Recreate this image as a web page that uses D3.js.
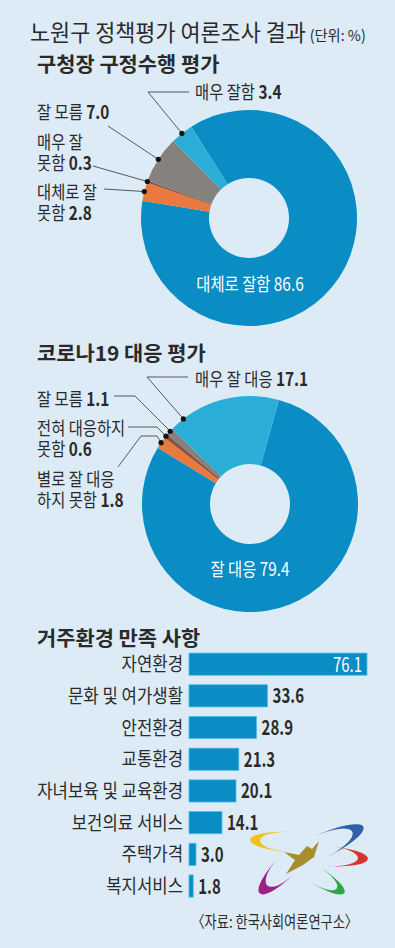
<!DOCTYPE html>
<html>
<head>
<meta charset="utf-8">
<script src="https://cdn.jsdelivr.net/npm/d3@7"></script>
<style>
  html, body { margin: 0; padding: 0; background: #ddebf7; }
  svg { display: block; }
  text { font-family: "Noto Sans CJK KR", "Noto Sans", sans-serif; fill: #2a2a2a; }
</style>
</head>
<body>
<svg id="chart" width="395" height="948"></svg>
<script>
// 구청장 구정수행 평가
const pie1Cats = ["대체로 잘함", "대체로 잘 못함", "매우 잘 못함", "잘 모름", "매우 잘함"];
const pie1Vals = [86.6, 2.8, 0.3, 7.0, 3.4];

// 코로나19 대응 평가
const pie2Cats = ["잘 대응", "별로 잘 대응하지 못함", "전혀 대응하지 못함", "잘 모름", "매우 잘 대응"];
const pie2Vals = [79.4, 1.8, 0.6, 1.1, 17.1];

// 거주환경 만족 사항
const barCats = ["자연환경", "문화 및 여가생활", "안전환경", "교통환경", "자녀보육 및 교육환경", "보건의료 서비스", "주택가격", "복지서비스"];
const barVals = [76.1, 33.6, 28.9, 21.3, 20.1, 14.1, 3.0, 1.8];

const sliceColors = ["#0a8cc4", "#e8793f", "#8b5240", "#85817d", "#2aaed8"];
const fmt = d3.format(".1f");
const svg = d3.select("#chart");

svg.append("rect").attr("width", 395).attr("height", 948).attr("fill", "#ddebf7");

// 원본 글꼴이 좁고 길어서 가로로 줄여 씀
function txt(g, x, y, s, o = {}) {
    const t = g.append("text")
        .attr("transform", `translate(${x},${y}) scale(${o.sx || 0.83},1)`)
        .attr("text-anchor", o.anchor || "start")
        .attr("font-size", (o.size || 18.5) + "px")
        .attr("font-weight", o.weight || 400);
    if (o.fill) t.style("fill", o.fill);
    if (s !== null) t.text(s);
    return t;
}

// 제목
const title = txt(svg, 30, 41, null, { size: 23, sx: 0.95 });
title.append("tspan").text("노원구 정책평가 여론조사 결과");
title.append("tspan").attr("font-size", "15px").attr("dx", 4).text("(단위: %)");

txt(svg, 37, 72, "구청장 구정수행 평가", { size: 20.5, weight: 700, sx: 1.02 });
txt(svg, 37, 361, "코로나19 대응 평가", { size: 20.5, weight: 700, sx: 1.02 });
txt(svg, 37, 646, "거주환경 만족 사항", { size: 20.5, weight: 700, sx: 1.02 });

const rad = Math.PI / 180;

function donut(cx, cy, cats, vals, start, layout) {
    const g = svg.append("g").attr("transform", `translate(${cx},${cy})`);
    const pie = d3.pie().sort(null).value(d => d.v)
        .startAngle(start * rad).endAngle(start * rad + 2 * Math.PI);
    const arcs = pie(cats.map((c, i) => ({ c, v: vals[i], i })));
    const arc = d3.arc().innerRadius(40).outerRadius(108);

    g.selectAll("path.slice").data(arcs).join("path")
        .attr("class", "slice")
        .attr("d", arc)
        .attr("fill", d => sliceColors[d.data.i]);

    arcs.forEach((a, i) => {
        const L = layout[i];
        if (L.center) {
            const t = txt(g, L.dx, L.dy, null, { anchor: "middle", fill: "#fff" });
            t.append("tspan").text(a.data.c + " ");
            t.append("tspan").text(fmt(a.data.v));
            return;
        }
        const ang = a.startAngle + (a.endAngle - a.startAngle) * L.at;
        const dot = [cx + 108 * Math.sin(ang), cy - 108 * Math.cos(ang)];
        svg.append("path")
            .attr("d", d3.line()(L.leader.concat([dot])))
            .attr("fill", "none").attr("stroke", "#333").attr("stroke-width", 0.8);
        svg.append("circle").attr("cx", dot[0]).attr("cy", dot[1]).attr("r", 2.6).attr("fill", "#111");

        // 두 줄 라벨도 한 text 안에서 tspan으로
        const c = a.data.c;
        const lines = L.wrap ? [c.slice(0, L.wrap).trim(), c.slice(L.wrap).trim()] : [c];
        const t = txt(svg, L.x, L.y, null);
        lines.forEach((ln, k) => {
            const last = k === lines.length - 1;
            t.append("tspan").attr("x", 0).attr("dy", k ? 21 : 0).text(ln + (last ? " " : ""));
            if (last) t.append("tspan").attr("font-weight", 700).text(fmt(a.data.v));
        });
    });
}

donut(249, 218, pie1Cats, pie1Vals, -32.3, [
    { center: true, dx: 1, dy: 73 },
    { x: 37, y: 199, wrap: 5, at: 0.5, leader: [[104, 189]] },
    { x: 37, y: 149, wrap: 4, at: 0.5, leader: [[93, 166]] },
    { x: 37, y: 119, at: 0.5, leader: [[108, 126]] },
    { x: 195, y: 99, at: 0.5, leader: [[189, 92], [148, 92]] }
]);

donut(250, 504, pie2Cats, pie2Vals, 15.5, [
    { center: true, dx: 0, dy: 72 },
    { x: 37, y: 486, wrap: 7, at: 0.5, leader: [[118, 467], [141, 436], [157, 436]] },
    { x: 37, y: 435, wrap: 7, at: 0.5, leader: [[128, 427], [157, 427]] },
    { x: 37, y: 406, at: 0.6, leader: [[114, 396], [135, 396]] },
    { x: 195, y: 386, at: 0.13, leader: [[188, 377], [147, 377]] }
]);

// 막대
const x = d3.scaleLinear().domain([0, 76.1]).range([189, 367]);
const y = d3.scaleBand().domain(barCats).range([648.3, 901.9]).paddingInner(0.3).paddingOuter(0.15);

const bars = svg.append("g");
barCats.forEach((c, i) => {
    const v = barVals[i];
    const by = y(c), bh = y.bandwidth();
    bars.append("rect")
        .attr("x", x(0)).attr("y", by)
        .attr("width", x(v) - x(0)).attr("height", bh)
        .attr("fill", "#0a8cc4").attr("stroke", "#56bde6").attr("stroke-width", 0.8);
    txt(bars, 183, by + bh / 2 + 7, c, { anchor: "end", size: 19, sx: 0.88 });
    if (i === 0) {
        txt(bars, x(v) - 5, by + bh / 2 + 7.5, fmt(v), { anchor: "end", fill: "#fff", size: 20, sx: 0.75 });
    } else {
        txt(bars, x(v) + 5, by + bh / 2 + 7.5, fmt(v), { weight: 700, size: 20, sx: 0.75 });
    }
});

// 노원구 로고: 반타원 두 개로 만든 초승달 다섯 개 + 가운데 새
const petals = [
    { cx: 291, cy: 842, rot: 183, rx: 41, h: 10, t: 10, color: "#f2c11d" },
    { cx: 318, cy: 848, rot: -25, rx: 50, h: 12, t: 12, color: "#2d62a8" },
    { cx: 327, cy: 856, rot: 4, rx: 41, h: 10, t: 10, color: "#d9342b" },
    { cx: 314, cy: 874, rot: 32, rx: 36, h: 9, t: 9, color: "#2fa64a" },
    { cx: 286, cy: 866, rot: 134, rx: 38, h: 11, t: 11, color: "#9b2383" }
];
const logo = svg.append("g");
petals.forEach(p => {
    logo.append("path")
        .attr("transform", `translate(${p.cx},${p.cy}) rotate(${p.rot})`)
        .attr("d", `M0,${-p.h} A${p.rx},${p.h} 0 0 1 0,${p.h} A${p.rx - p.t},${p.h} 0 0 0 0,${-p.h} Z`)
        .attr("fill", p.color);
});
logo.append("path")
    .attr("d", "M286,874 L295,860 L284,852 L299,855 L307,846 L312,849 L319,841 L314,857 L303,865 Z")
    .attr("fill", "#a88d2c");

txt(svg, 358, 928, "〈자료: 한국사회여론연구소〉", { anchor: "end", size: 16.5, sx: 0.8 });
</script>
</body>
</html>
